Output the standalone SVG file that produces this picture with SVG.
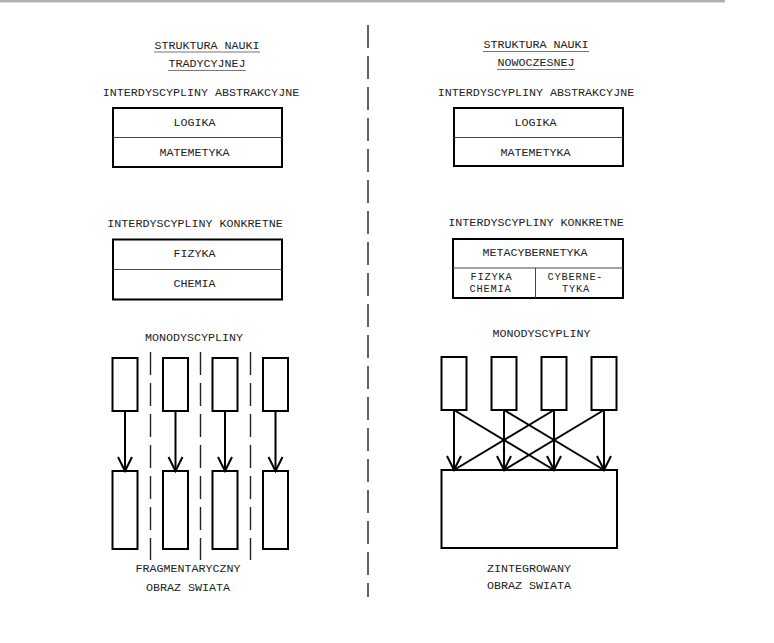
<svg xmlns="http://www.w3.org/2000/svg" width="774" height="643" viewBox="0 0 774 643">
<style>
text{font-family:"Liberation Mono","Courier New",monospace;font-size:11.7px;fill:#222;text-anchor:middle}
text.sm{font-size:10.4px;letter-spacing:0.76px}
.box{fill:#fff;stroke:#000;stroke-width:2}
.div{stroke:#444;stroke-width:1;fill:none}
.dash{stroke:#222;stroke-width:1.4;stroke-dasharray:23 8;fill:none}
.ul{stroke:#777;stroke-width:1}
.arr{stroke:#000;stroke-width:2;fill:none}
</style>
<defs>
<marker id="v" markerWidth="18" markerHeight="18" refX="15" refY="9" orient="auto" markerUnits="userSpaceOnUse" viewBox="0 0 18 18">
<path d="M1,2 L15,9 L1,16" fill="none" stroke="#000" stroke-width="2"/>
</marker>
</defs>
<rect x="0" y="0" width="725" height="2.5" fill="#c4c4c4"/>
<line x1="0" y1="1" x2="725" y2="1" stroke="#9a9a9a" stroke-width="1"/>
<line class="dash" x1="368" y1="25" x2="368" y2="597"/>

<g id="title-left">
<text x="207" y="49">STRUKTURA NAUKI</text>
<line class="ul" x1="154" y1="52" x2="260" y2="52"/>
<text x="207" y="67">TRADYCYJNEJ</text>
<line class="ul" x1="168" y1="70.5" x2="246" y2="70.5"/>
</g>
<g id="title-right">
<text x="536" y="48">STRUKTURA NAUKI</text>
<line class="ul" x1="483" y1="51.5" x2="589" y2="51.5"/>
<text x="536" y="66">NOWOCZESNEJ</text>
<line class="ul" x1="497" y1="69.5" x2="575" y2="69.5"/>
</g>

<g id="abstract-left">
<text x="201" y="96">INTERDYSCYPLINY ABSTRAKCYJNE</text>
<rect class="box" x="113" y="108" width="169" height="59"/>
<line class="div" x1="113" y1="137.5" x2="282" y2="137.5"/>
<text x="194.5" y="126">LOGIKA</text>
<text x="194.5" y="156">MATEMETYKA</text>
</g>
<g id="abstract-right">
<text x="536" y="95.5">INTERDYSCYPLINY ABSTRAKCYJNE</text>
<rect class="box" x="454" y="108" width="169" height="58"/>
<line class="div" x1="454" y1="137.5" x2="623" y2="137.5"/>
<text x="535.5" y="125.5">LOGIKA</text>
<text x="535.5" y="155.5">MATEMETYKA</text>
</g>

<g id="concrete-left">
<text x="195" y="227">INTERDYSCYPLINY KONKRETNE</text>
<rect class="box" x="113" y="239.5" width="169" height="60"/>
<line class="div" x1="113" y1="269.5" x2="282" y2="269.5"/>
<text x="194.5" y="257">FIZYKA</text>
<text x="194.5" y="287">CHEMIA</text>
</g>
<g id="concrete-right">
<text x="536" y="226">INTERDYSCYPLINY KONKRETNE</text>
<rect class="box" x="453" y="239" width="170" height="59"/>
<line class="div" x1="453" y1="268" x2="623" y2="268"/>
<line class="div" x1="535.5" y1="268" x2="535.5" y2="298"/>
<text x="535" y="255.5">METACYBERNETYKA</text>
<text class="sm" x="491.4" y="279.5">FIZYKA</text>
<text class="sm" x="490.4" y="291.5">CHEMIA</text>
<text class="sm" x="575.4" y="279.5">CYBERNE-</text>
<text class="sm" x="575.9" y="291.5">TYKA</text>
</g>

<g id="mono-left">
<text x="194" y="340.5">MONODYSCYPLINY</text>
<line class="dash" x1="150.5" y1="352" x2="150.5" y2="560"/>
<line class="dash" x1="200.5" y1="352" x2="200.5" y2="560"/>
<line class="dash" x1="250.5" y1="352" x2="250.5" y2="560"/>
<rect class="box" x="112.5" y="358" width="25" height="53"/>
<rect class="box" x="163" y="358" width="25" height="53"/>
<rect class="box" x="212.5" y="358" width="25" height="53"/>
<rect class="box" x="263" y="358" width="25" height="53"/>
<rect class="box" x="112.5" y="471" width="25" height="78"/>
<rect class="box" x="163" y="471" width="25" height="78"/>
<rect class="box" x="212.5" y="471" width="25" height="78"/>
<rect class="box" x="263" y="471" width="25" height="78"/>
<text x="188" y="572">FRAGMENTARYCZNY</text>
<text x="188" y="590.5">OBRAZ SWIATA</text>
</g>

<g id="mono-right">
<text x="541.5" y="337">MONODYSCYPLINY</text>
<rect class="box" x="441.5" y="357" width="25" height="53"/>
<rect class="box" x="491.5" y="357" width="25" height="53"/>
<rect class="box" x="541.5" y="357" width="25" height="53"/>
<rect class="box" x="591.5" y="357" width="25" height="53"/>
<rect class="box" x="441.5" y="470" width="175.5" height="78"/>
<text x="529" y="572">ZINTEGROWANY</text>
<text x="529" y="588.5">OBRAZ SWIATA</text>
</g>

<g id="connectors">
<line class="arr" x1="125" y1="411" x2="125" y2="471" marker-end="url(#v)"/>
<line class="arr" x1="175.5" y1="411" x2="175.5" y2="471" marker-end="url(#v)"/>
<line class="arr" x1="225" y1="411" x2="225" y2="471" marker-end="url(#v)"/>
<line class="arr" x1="275.5" y1="411" x2="275.5" y2="471" marker-end="url(#v)"/>
<line class="arr" x1="454" y1="410" x2="454" y2="470" marker-end="url(#v)"/>
<line class="arr" x1="504" y1="410" x2="504" y2="470" marker-end="url(#v)"/>
<line class="arr" x1="554" y1="410" x2="554" y2="470" marker-end="url(#v)"/>
<line class="arr" x1="604" y1="410" x2="604" y2="470" marker-end="url(#v)"/>
<line class="arr" x1="454" y1="410" x2="554" y2="470"/>
<line class="arr" x1="504" y1="410" x2="604" y2="470"/>
<line class="arr" x1="554" y1="410" x2="454" y2="470"/>
<line class="arr" x1="604" y1="410" x2="504" y2="470"/>
</g>
</svg>
